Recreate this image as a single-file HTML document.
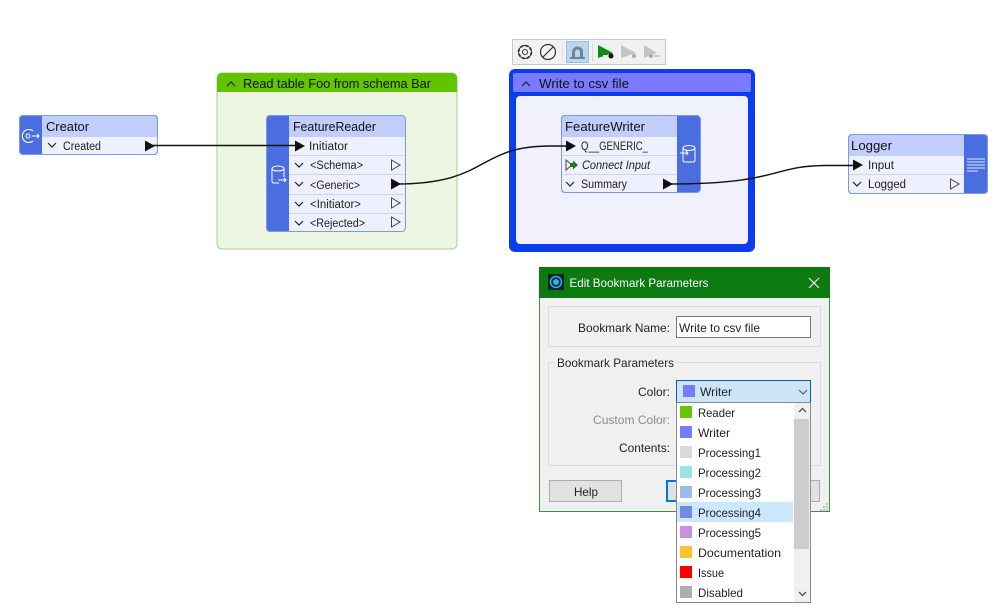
<!DOCTYPE html>
<html><head><meta charset="utf-8">
<style>
html,body{margin:0;padding:0;background:#fff;width:999px;height:611px;overflow:hidden}
svg{display:block}
text{font-family:"Liberation Sans",sans-serif;font-size:11.5px;fill:#1c1c1c}
.t{font-size:13px;fill:#111}
.p{font-size:11.5px;fill:#222}
.d{font-size:12px;fill:#222}
</style></head><body>
<svg width="999" height="611" viewBox="0 0 999 611" xmlns="http://www.w3.org/2000/svg">
<defs>
<g id="chev"><path d="M-4 -2L0 2L4 -2" fill="none" stroke="#222" stroke-width="1.200"/></g>
<g id="ao"><path d="M-4.500 -5L4 0L-4.500 5Z" fill="none" stroke="#444" stroke-width="1"/></g>
<g id="af"><path d="M-5 -5.500L5 0L-5 5.500Z" fill="#111"/></g>
</defs>

<!-- Read bookmark -->
<path d="M223 73H451Q457 73 457 79V243Q457 249 451 249H223Q217 249 217 243V79Q217 73 223 73Z" fill="#ecf6e3" stroke="#a8cf85" stroke-width="1"/>
<path d="M223 73H451Q457 73 457 79V92H217V79Q217 73 223 73Z" fill="#62c400"/>
<path d="M227 86L231 82L235 86" fill="none" stroke="#222" stroke-width="1.200"/>
<text x="243" y="88" class="t" textLength="188" lengthAdjust="spacingAndGlyphs">Read table Foo from schema Bar</text>

<!-- Write bookmark -->
<rect x="509" y="69" width="246" height="183" rx="6" fill="#0a3cf0"/>
<rect x="513" y="73" width="238" height="19" rx="2" fill="#7a7aff"/>
<rect x="516" y="96" width="232" height="148" rx="4" fill="#f0f1fd"/>
<path d="M522 86L526 82L530 86" fill="none" stroke="#222" stroke-width="1.200"/>
<text x="539" y="88" class="t" textLength="90" lengthAdjust="spacingAndGlyphs">Write to csv file</text>

<!-- Toolbar -->
<rect x="512.500" y="39.500" width="153" height="25" fill="#f1f1f1" stroke="#c8c8c8"/>
<circle cx="525" cy="52" r="6" fill="none" stroke="#333" stroke-width="2.600" stroke-dasharray="3 1.700"/>
<circle cx="525" cy="52" r="5.500" fill="#f1f1f1"/>
<circle cx="525" cy="52" r="6.500" fill="none" stroke="#333" stroke-width="0.900"/>
<circle cx="525" cy="52" r="2.500" fill="none" stroke="#333" stroke-width="1"/>
<circle cx="548" cy="52" r="7.500" fill="none" stroke="#333" stroke-width="1.200"/>
<path d="M543 57L553 47" stroke="#333" stroke-width="1.200"/>
<line x1="562.500" y1="42" x2="562.500" y2="62" stroke="#ddd"/>
<rect x="566.500" y="41.500" width="22" height="21" fill="#b9d6ee" stroke="#9cc0dd"/>
<path d="M572 57V52A5.500 5.500 0 0 1 583 52V57H580V52A2.500 2.500 0 0 0 575 52V57Z" fill="#6d8494"/>
<rect x="570" y="57" width="15" height="2" fill="#6d8494"/>
<line x1="592.500" y1="42" x2="592.500" y2="62" stroke="#ddd"/>
<path d="M598 45L613 53L598 58Z" fill="#0d8a10"/><path d="M603 55.500H608" stroke="#fff"/><circle cx="611" cy="56" r="2.500" fill="#111"/>
<path d="M621 45L636 53L621 58Z" fill="#c4c4c4"/><circle cx="634" cy="56" r="2" fill="#aaa"/>
<path d="M644 45L657 53L644 58Z" fill="#c4c4c4"/><circle cx="651" cy="56" r="2" fill="#aaa"/><path d="M654 56H660" stroke="#aaa"/>

<!-- Creator -->
<rect x="19" y="115" width="139" height="40" rx="4" fill="#4a6de0"/>
<path d="M42 115.500H154Q157.500 115.500 157.500 119V137H42Z" fill="#c1cdfb"/>
<path d="M42 137H157.500V151Q157.500 154.500 154 154.500H42Z" fill="#eef1fd"/>
<rect x="19.500" y="115.500" width="138" height="39" rx="4" fill="none" stroke="#7d9ae8"/>
<path d="M33 131A6.500 6.500 0 1 0 33 141" fill="none" stroke="#fff" stroke-width="1.100"/>
<circle cx="28" cy="136" r="2" fill="none" stroke="#fff"/>
<path d="M32 136H39M37 134L39 136L37 138" fill="none" stroke="#fff"/>
<text x="46" y="131" class="t" textLength="43" lengthAdjust="spacingAndGlyphs">Creator</text>
<use href="#chev" x="52" y="145"/>
<text x="63" y="150" class="p" textLength="38" lengthAdjust="spacingAndGlyphs">Created</text>

<!-- FeatureReader -->
<rect x="266" y="115" width="139.500" height="117" rx="4" fill="#4a6de0"/>
<path d="M289 115.500H401Q405 115.500 405 119V137H289Z" fill="#c1cdfb"/>
<path d="M289 137H405V228Q405 231.500 401 231.500H289Z" fill="#eef1fd"/>
<path d="M289 155.500H405M289 174.500H405M289 194.500H405M289 213.500H405" stroke="#ccd5f3"/>
<rect x="266.500" y="115.500" width="139" height="116" rx="4" fill="none" stroke="#7d9ae8"/>
<ellipse cx="278" cy="168.500" rx="6" ry="2.500" fill="none" stroke="#fff"/>
<path d="M272 168.500V181Q272 183 274 183H279M284 168.500V177M278 180H286M284 178L286 180L284 182" fill="none" stroke="#fff"/>
<text x="293" y="131" class="t" textLength="83" lengthAdjust="spacingAndGlyphs">FeatureReader</text>
<text x="309" y="150" class="p" textLength="39" lengthAdjust="spacingAndGlyphs">Initiator</text>
<use href="#chev" x="299" y="165"/><text x="310" y="169" class="p" textLength="53" lengthAdjust="spacingAndGlyphs">&lt;Schema&gt;</text><use href="#ao" x="396" y="165"/>
<use href="#chev" x="299" y="184"/><text x="310" y="189" class="p" textLength="50" lengthAdjust="spacingAndGlyphs">&lt;Generic&gt;</text>
<use href="#chev" x="299" y="204"/><text x="310" y="208" class="p" textLength="51" lengthAdjust="spacingAndGlyphs">&lt;Initiator&gt;</text><use href="#ao" x="396" y="203"/>
<use href="#chev" x="299" y="223"/><text x="310" y="227" class="p" textLength="55" lengthAdjust="spacingAndGlyphs">&lt;Rejected&gt;</text><use href="#ao" x="396" y="222"/>

<!-- FeatureWriter -->
<rect x="561" y="115" width="139.500" height="78" rx="4" fill="#4a6de0"/>
<path d="M565 115.500H677V137H561.500V119Q561.500 115.500 565 115.500Z" fill="#c1cdfb"/>
<path d="M561.500 137H677V192.500H565Q561.500 192.500 561.500 189Z" fill="#eef1fd"/>
<path d="M561.500 155.500H677M561.500 174.500H677" stroke="#ccd5f3"/>
<rect x="561.500" y="115.500" width="139" height="77" rx="4" fill="none" stroke="#7d9ae8"/>
<ellipse cx="689" cy="148" rx="6" ry="2.500" fill="none" stroke="#fff"/>
<path d="M683 148V160Q683 162 685 162H693Q695 162 695 160V148M680 153H688M686 151L688 153L686 155" fill="none" stroke="#fff"/>
<text x="565" y="131" class="t" textLength="80" lengthAdjust="spacingAndGlyphs">FeatureWriter</text>
<text x="581" y="150" class="p" textLength="67" lengthAdjust="spacingAndGlyphs">Q__GENERIC_</text>
<path d="M566 160L572 165L566 170Z" fill="none" stroke="#444"/><path d="M570 163H573V160.500L578 165L573 169.500V167H570Z" fill="#1d7a22"/>
<text x="582" y="169" class="p" font-style="italic" textLength="68" lengthAdjust="spacingAndGlyphs">Connect Input</text>
<use href="#chev" x="570" y="184"/>
<text x="581" y="188" class="p" textLength="46" lengthAdjust="spacingAndGlyphs">Summary</text>

<!-- Logger -->
<rect x="848" y="134" width="140" height="60" rx="4" fill="#4a6de0"/>
<path d="M852 134.500H964V156H848.500V138Q848.500 134.500 852 134.500Z" fill="#c1cdfb"/>
<path d="M848.500 156H964V193.500H852Q848.500 193.500 848.500 190Z" fill="#eef1fd"/>
<path d="M848.500 174.500H964" stroke="#ccd5f3"/>
<rect x="848.500" y="134.500" width="139" height="59" rx="4" fill="none" stroke="#7d9ae8"/>
<path d="M967 159H985M967 162H985M967 165H985M967 168H985M967 171H978" stroke="#dfe6fb" stroke-width="1"/>
<text x="851" y="150" class="t" textLength="41" lengthAdjust="spacingAndGlyphs">Logger</text>
<text x="868" y="169" class="p" textLength="26" lengthAdjust="spacingAndGlyphs">Input</text>
<use href="#chev" x="857" y="184"/>
<text x="868" y="188" class="p" textLength="38" lengthAdjust="spacingAndGlyphs">Logged</text>
<use href="#ao" x="955" y="184"/>

<!-- Connectors -->
<g fill="none" stroke="#111" stroke-width="1.400">
<path d="M150 145.500H300"/>
<path d="M396 184C490 184 476 146 550 146H571"/>
<path d="M668 184C780 184 770 166 825 165.500H858"/>
</g>
<use href="#af" x="150" y="146"/>
<use href="#af" x="300" y="146"/>
<use href="#af" x="396" y="184"/>
<use href="#af" x="571" y="146"/>
<use href="#af" x="668" y="184"/>
<use href="#af" x="858" y="165"/>

<!-- Dialog -->
<rect x="539.500" y="267.500" width="290" height="244" fill="#f0f0f0" stroke="#3f8f42"/>
<rect x="539" y="267" width="291" height="31" fill="#0c7a10"/>
<rect x="548" y="274" width="16" height="16" fill="#10202c"/>
<circle cx="556" cy="282" r="5.500" fill="none" stroke="#27b5e6" stroke-width="1.500"/><circle cx="556" cy="282" r="3" fill="#27b5e6"/>
<text x="569.500" y="287" class="d" style="fill:#fff" textLength="139" lengthAdjust="spacingAndGlyphs">Edit Bookmark Parameters</text>
<path d="M809 278L819 288M819 278L809 288" stroke="#fff" stroke-width="1.200"/>

<rect x="548.500" y="306.500" width="272" height="40" fill="none" stroke="#dcdcdc"/>
<text x="578" y="332" class="d" textLength="92" lengthAdjust="spacingAndGlyphs">Bookmark Name:</text>
<rect x="676.500" y="316.500" width="134" height="21" fill="#fff" stroke="#7a7a7a"/>
<text x="679" y="332" class="d" textLength="81" lengthAdjust="spacingAndGlyphs">Write to csv file</text>

<rect x="548.500" y="362.500" width="272" height="103" fill="none" stroke="#dcdcdc"/>
<rect x="555" y="358" width="120" height="10" fill="#f0f0f0"/>
<text x="557" y="367" class="d" textLength="117" lengthAdjust="spacingAndGlyphs">Bookmark Parameters</text>
<text x="638" y="396" class="d" textLength="32" lengthAdjust="spacingAndGlyphs">Color:</text>
<text x="593" y="424" class="d" style="fill:#8a8a8a" textLength="77" lengthAdjust="spacingAndGlyphs">Custom Color:</text>
<text x="619" y="452" class="d" textLength="51" lengthAdjust="spacingAndGlyphs">Contents:</text>

<rect x="676.500" y="380.500" width="134" height="22" fill="#cce4f7" stroke="#0a5fa8"/>
<rect x="683" y="385" width="12" height="12" fill="#7a7aff"/>
<text x="700" y="396" class="d" textLength="32" lengthAdjust="spacingAndGlyphs">Writer</text>
<path d="M799 390L803 394L807 390" fill="none" stroke="#555"/>

<rect x="549.500" y="480.500" width="72" height="21" fill="#e1e1e1" stroke="#adadad"/>
<text x="574" y="496" class="d" textLength="24" lengthAdjust="spacingAndGlyphs">Help</text>
<rect x="667" y="481" width="30" height="20" fill="#e1e1e1" stroke="#0078d7" stroke-width="2"/>
<rect x="800.500" y="480.500" width="19" height="21" fill="#e1e1e1" stroke="#adadad"/>
<path d="M826 506h2v2h-2zM823 509h2v2h-2zM826 509h2v2h-2zM820 509h2v2h-2zM823 506h2v2h-2zM826 503h2v2h-2z" fill="#c4c4c4"/>

<!-- Dropdown -->
<rect x="676.500" y="402.500" width="134" height="200" fill="#fff" stroke="#8a8a8a"/>
<rect x="794" y="403" width="16" height="199" fill="#f0f0f0"/>
<rect x="794" y="419" width="15" height="130" fill="#cdcdcd"/>
<path d="M799 412L802.500 408.500L806 412" fill="none" stroke="#555" stroke-width="1.400"/>
<path d="M799 592L802.500 595.500L806 592" fill="none" stroke="#555" stroke-width="1.400"/>
<rect x="677" y="502" width="116" height="20" fill="#cce8ff"/>
<rect x="680" y="406" width="12" height="12" fill="#66c800"/>
<rect x="680" y="426" width="12" height="12" fill="#7a7aff"/>
<rect x="680" y="446" width="12" height="12" fill="#dadada"/>
<rect x="680" y="466" width="12" height="12" fill="#9be4e4"/>
<rect x="680" y="486" width="12" height="12" fill="#9cbde6"/>
<rect x="680" y="506" width="12" height="12" fill="#6f8bdd"/>
<rect x="680" y="526" width="12" height="12" fill="#cc8fdd"/>
<rect x="680" y="546" width="12" height="12" fill="#ffc233"/>
<rect x="680" y="566" width="12" height="12" fill="#ff0000"/>
<rect x="680" y="586" width="12" height="12" fill="#aab0b0"/>
<text x="698" y="417" class="d" textLength="37" lengthAdjust="spacingAndGlyphs">Reader</text>
<text x="698" y="437" class="d" textLength="32" lengthAdjust="spacingAndGlyphs">Writer</text>
<text x="698" y="457" class="d" textLength="63" lengthAdjust="spacingAndGlyphs">Processing1</text>
<text x="698" y="477" class="d" textLength="63" lengthAdjust="spacingAndGlyphs">Processing2</text>
<text x="698" y="497" class="d" textLength="63" lengthAdjust="spacingAndGlyphs">Processing3</text>
<text x="698" y="517" class="d" textLength="63" lengthAdjust="spacingAndGlyphs">Processing4</text>
<text x="698" y="537" class="d" textLength="63" lengthAdjust="spacingAndGlyphs">Processing5</text>
<text x="698" y="557" class="d" textLength="83" lengthAdjust="spacingAndGlyphs">Documentation</text>
<text x="698" y="577" class="d" textLength="26" lengthAdjust="spacingAndGlyphs">Issue</text>
<text x="698" y="597" class="d" textLength="45" lengthAdjust="spacingAndGlyphs">Disabled</text>
</svg>
</body></html>
